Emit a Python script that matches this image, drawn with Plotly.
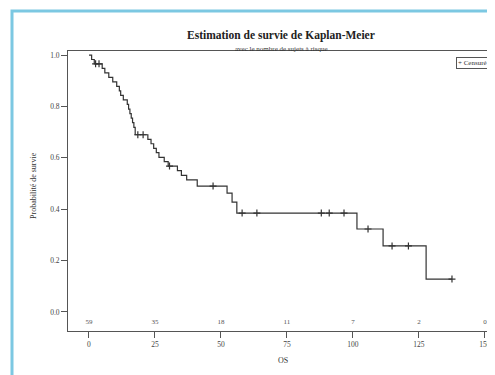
import plotly.graph_objects as go

# Kaplan-Meier step curve (time in months, survival probability)
km_time = [0, 1.0, 2.0, 5.0, 6.0, 7.5, 9.0, 10.5, 11.5, 12.0, 13.0, 14.5, 15.0, 15.5, 16.0,
           16.5, 17.0, 17.5, 22.3, 23.5, 24.5, 25.5, 26.5, 28.5, 30.0, 33.5, 35.0, 37.0,
           41.0, 52.3, 54.2, 56.0, 101.5, 111.4, 127.7, 137.5]
km_surv = [1.0, 0.983, 0.966, 0.948, 0.931, 0.913, 0.896, 0.878, 0.861, 0.843, 0.826, 0.808,
           0.790, 0.772, 0.755, 0.737, 0.719, 0.690, 0.672, 0.655, 0.637, 0.620, 0.602, 0.585,
           0.568, 0.550, 0.532, 0.514, 0.490, 0.463, 0.428, 0.385, 0.323, 0.257, 0.128, 0.128]

# Censored observations
cens_time = [2.5, 3.8, 18.5, 20.5, 30.5, 47.0, 58.0, 63.6, 88.0, 91.0, 96.6, 105.7, 114.8, 121.0, 137.5]
cens_surv = [0.966, 0.966, 0.690, 0.690, 0.568, 0.490, 0.385, 0.385, 0.385, 0.385, 0.385,
             0.323, 0.257, 0.257, 0.128]

# Number at risk
risk_time = [0, 25, 50, 75, 100, 125, 150]
risk_n = ["59", "35", "18", "11", "7", "2", "0"]

x_ticks = [0, 25, 50, 75, 100, 125, 150]
y_ticks = [0.0, 0.2, 0.4, 0.6, 0.8, 1.0]

SERIF = "Liberation Serif"
INK = "#333333"

fig = go.Figure()
fig.add_trace(go.Scatter(x=km_time, y=km_surv, mode="lines", line_shape="hv",
                         line=dict(color=INK, width=1.2), showlegend=False, hoverinfo="skip"))
fig.add_trace(go.Scatter(x=cens_time, y=cens_surv, mode="markers", name="Censuré",
                         showlegend=False,
                         marker=dict(symbol="cross-thin-open", size=5,
                                     line=dict(color=INK, width=1.2), color=INK)))
fig.add_trace(go.Scatter(x=risk_time, y=[-0.04] * len(risk_time), mode="text", text=risk_n,
                         textfont=dict(family=SERIF, size=7, color="#555555"),
                         cliponaxis=False, showlegend=False, hoverinfo="skip"))

axis_common = dict(showline=True, linecolor="#555555", linewidth=1, mirror=True,
                   ticks="outside", ticklen=6, tickcolor="#555555", showgrid=False,
                   zeroline=False, tickfont=dict(family=SERIF, size=7.5, color="#444444"))

fig.update_layout(
    width=487, height=367,
    margin=dict(l=60, r=5, t=43, b=44),
    paper_bgcolor="white", plot_bgcolor="white",
    font=dict(family=SERIF, color=INK),
    showlegend=False,
    xaxis=dict(range=[-7.95, 151.9], tickvals=x_ticks, **axis_common),
    yaxis=dict(range=[-0.074, 1.016], tickvals=y_ticks, tickformat=".1f", **axis_common),
    annotations=[
        dict(text="<b>Estimation de survie de Kaplan-Meier</b>", xref="paper", yref="paper",
             x=0.505, y=(331 - 27) / 280, showarrow=False, font=dict(family=SERIF, size=11.5, color="#222")),
        dict(text="avec le nombre de sujets à risque", xref="paper", yref="paper",
             x=0.505, y=(331 - 43) / 280, showarrow=False, font=dict(family=SERIF, size=7, color="#333")),
        dict(text="OS", xref="paper", yref="paper", x=0.51, y=(331 - 367) / 280,
             showarrow=False, font=dict(family=SERIF, size=8, color="#333")),
        dict(text="Probabilité de survie", xref="paper", yref="paper", x=(27 - 68) / 422, y=0.52,
             textangle=-90, showarrow=False, font=dict(family=SERIF, size=8, color="#333")),
        dict(text="+ Censuré", xref="paper", yref="paper", x=(489 - 68) / 422, y=(331 - 57) / 280,
             xanchor="right", yanchor="top", showarrow=False, bordercolor="#555555", borderwidth=1,
             borderpad=1, bgcolor="white", font=dict(family=SERIF, size=7, color="#333")),
    ],
    shapes=[
        dict(type="rect", xref="paper", yref="paper",
             x0=(12 - 68) / 422, x1=(493 - 68) / 422,
             y0=(331 - 390) / 280, y1=(331 - 11) / 280,
             line=dict(color="#7cc8e2", width=3), layer="below"),
    ],
)

fig.write_html("out.html")
